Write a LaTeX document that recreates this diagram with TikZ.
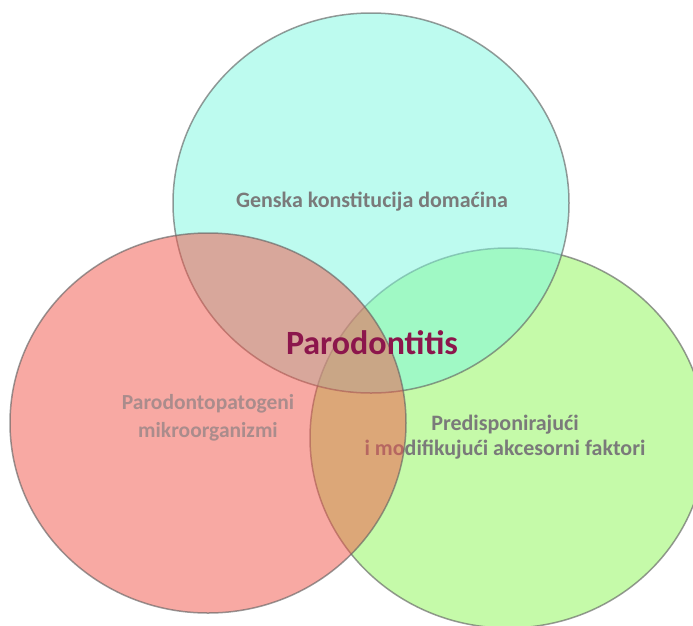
\documentclass[tikz,border=0pt]{standalone}
\usepackage{fontspec}
\setmainfont{Carlito}
\definecolor{cyanC}{RGB}{125,249,225}
\definecolor{redC}{RGB}{243,85,73}
\definecolor{greenC}{RGB}{141,247,85}
\definecolor{lineC}{RGB}{100,100,100}
\definecolor{txtC}{RGB}{122,122,122}
\definecolor{txtR}{RGB}{170,140,140}
\definecolor{mainC}{RGB}{140,22,76}
\begin{document}
\begin{tikzpicture}[x=1pt,y=-1pt,
  blob/.style={fill opacity=0.5, draw=lineC, draw opacity=0.65, line width=1.5pt},
  lbl/.style={font=\bfseries\fontsize{22}{25.5}\selectfont, text=txtC, align=center, inner sep=0pt},
  ]
\useasboundingbox (0,0) rectangle (693,625);
\fill[white] (0,0) rectangle (693,625);
% green (bottom layer)
\filldraw[blob, fill=greenC] (508,438) ellipse [x radius=198, y radius=190];
% cyan
\filldraw[blob, fill=cyanC] (371,203) ellipse [x radius=198, y radius=190];
% texts under red layer
\node[lbl] (gen) at (372,202) {Genska konstitucija domaćina};
\node[lbl] (pred) at (505,437) {Predisponirajući\\i modifikujući akcesorni faktori};
% red
\filldraw[blob, fill=redC] (208,423) ellipse [x radius=198, y radius=190];
\node[lbl, text=txtR, font=\bfseries\fontsize{21.5}{28}\selectfont] (mik) at (208,418) {Parodontopatogeni\\mikroorganizmi};
\node[font=\bfseries\fontsize{34}{36}\selectfont, text=mainC, inner sep=0pt] (par) at (372,343) {Parodontitis};
\end{tikzpicture}
\end{document}
